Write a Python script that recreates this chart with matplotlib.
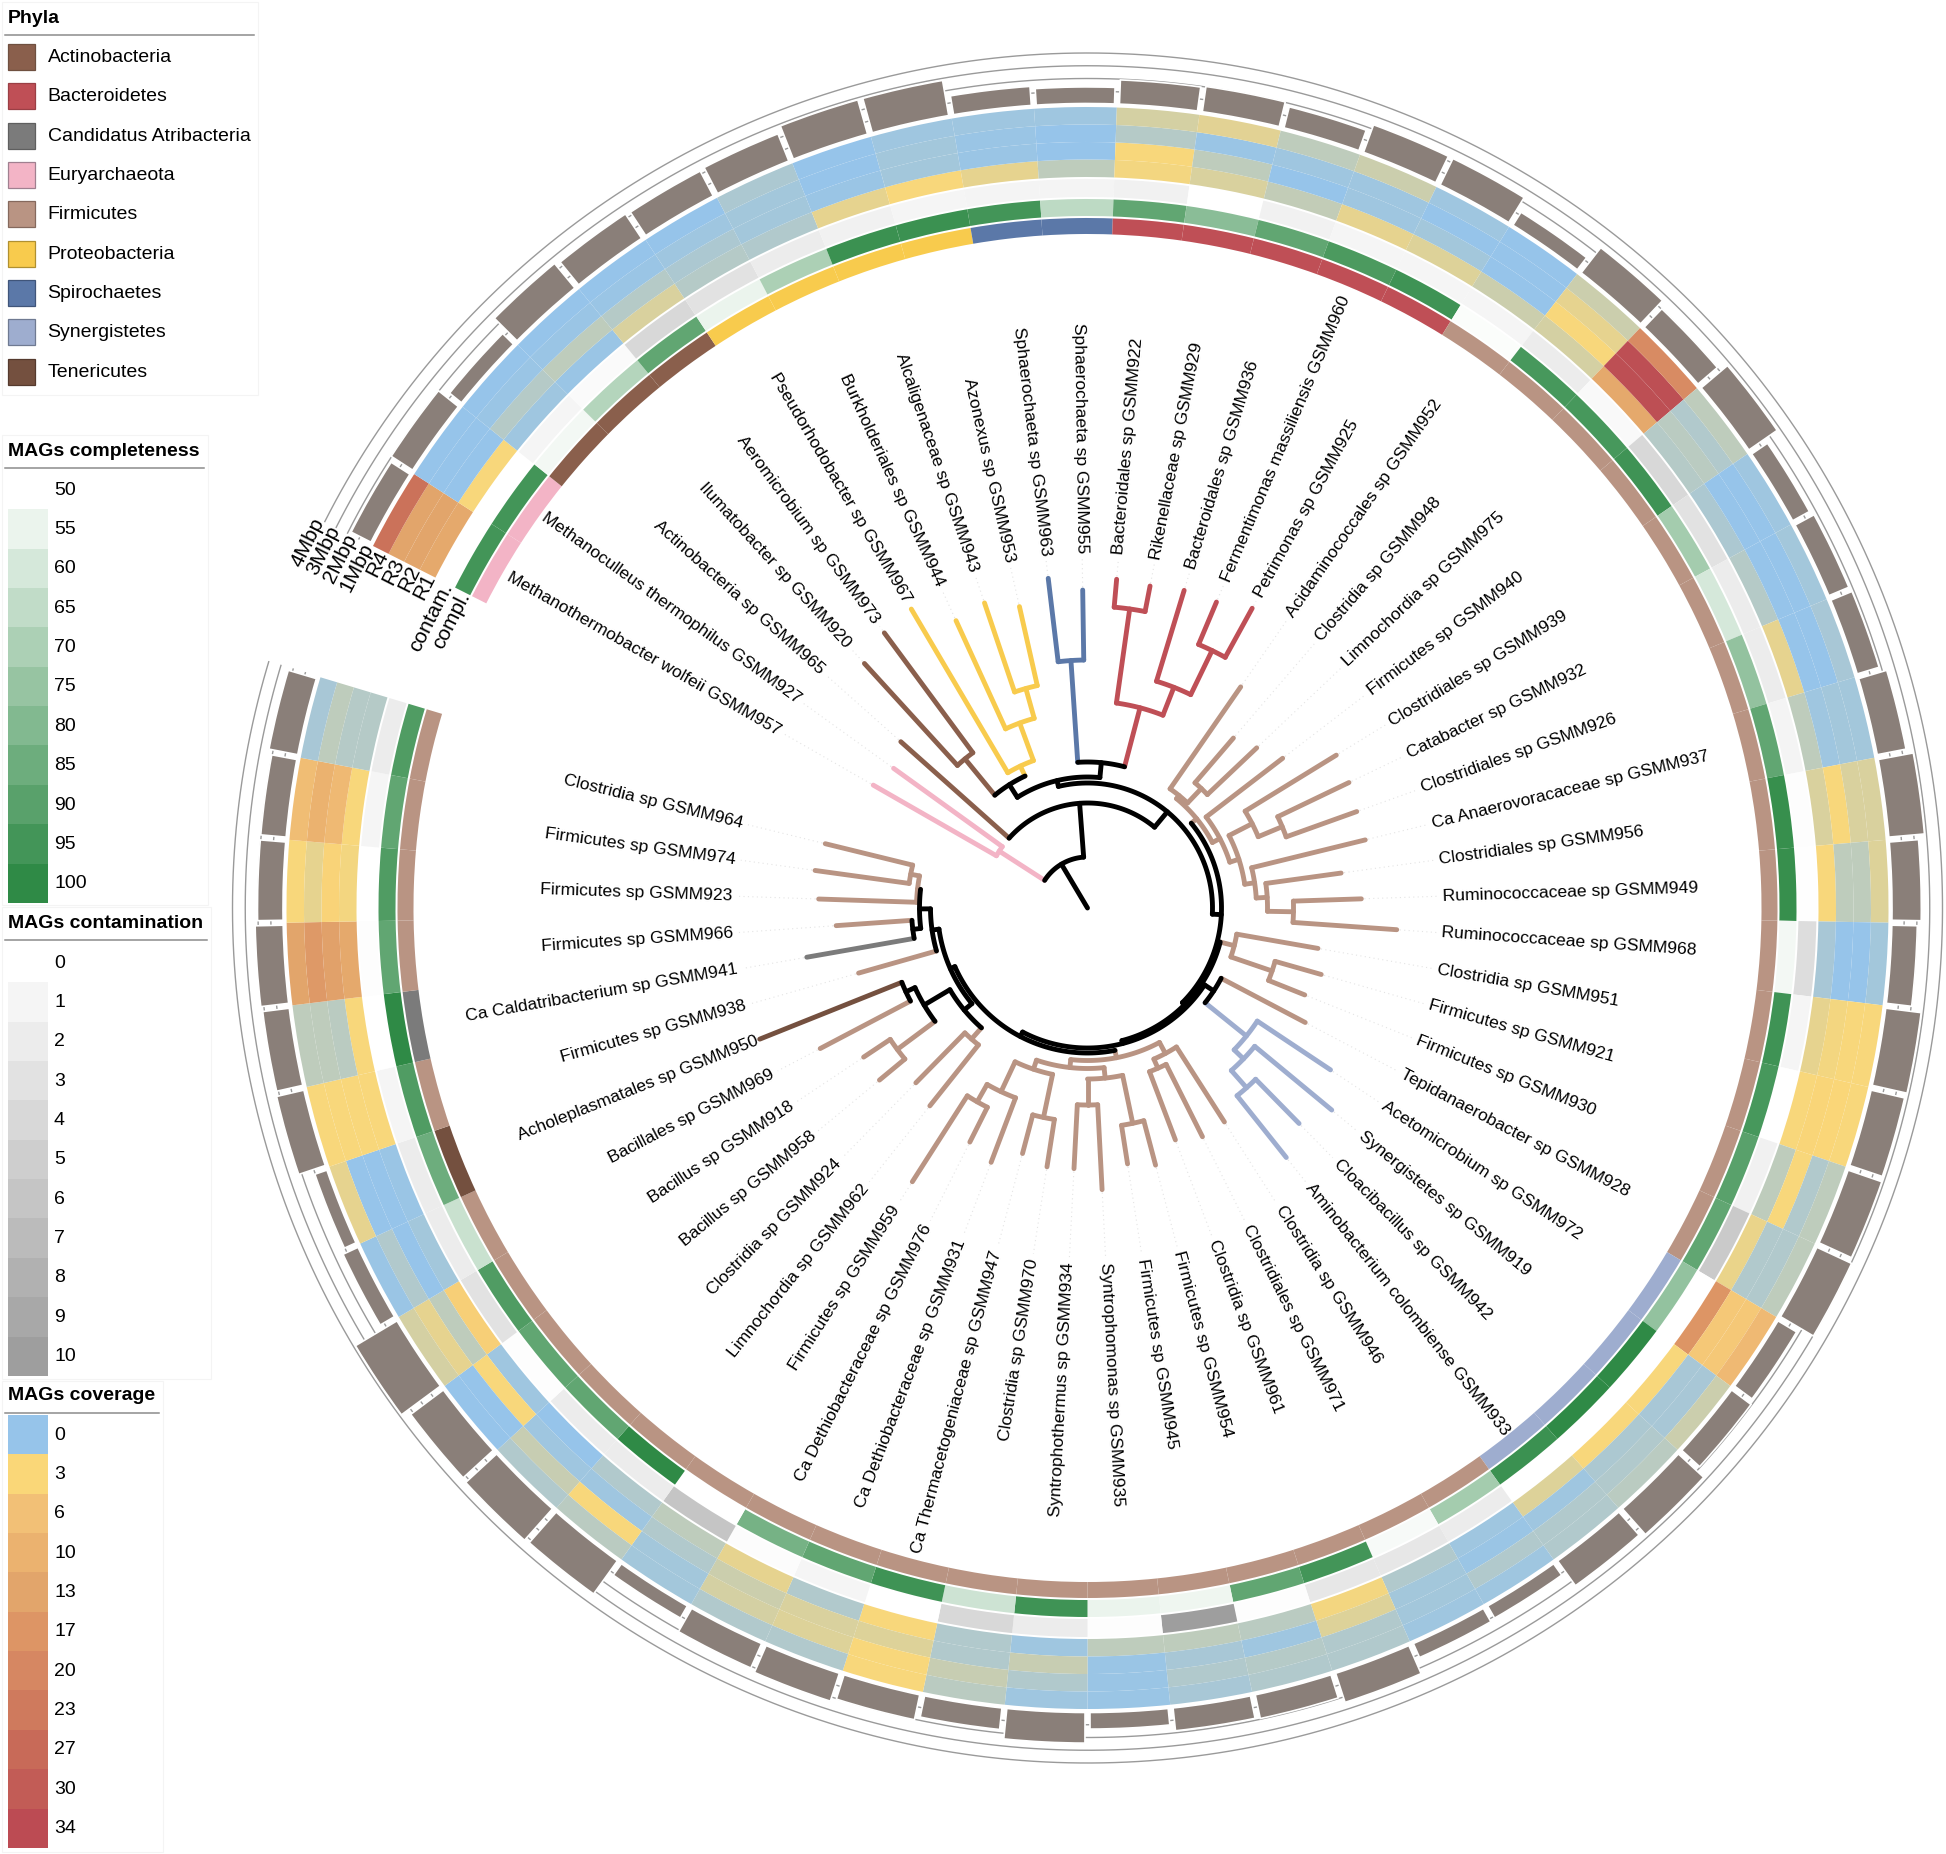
import numpy as np
import matplotlib
matplotlib.use('Agg')
import matplotlib.pyplot as plt
from matplotlib.colors import LinearSegmentedColormap
from matplotlib.patches import Rectangle

plt.rcParams['font.family'] = ['Liberation Sans', 'DejaVu Sans']

W, H = 1946, 1854
CX, CY, RMAX = 1087.5, 908.0, 865.0

taxa = ["Methanothermobacter wolfeii GSMM957", "Methanoculleus thermophilus GSMM927", "Actinobacteria sp GSMM965",
        "Ilumatobacter sp GSMM920", "Aeromicrobium sp GSMM973", "Pseudorhodobacter sp GSMM967",
        "Burkholderiales sp GSMM944", "Alcaligenaceae sp GSMM943", "Azonexus sp GSMM953",
        "Sphaerochaeta sp GSMM963", "Sphaerochaeta sp GSMM955", "Bacteroidales sp GSMM922",
        "Rikenellaceae sp GSMM929", "Bacteroidales sp GSMM936", "Fermentimonas massiliensis GSMM960",
        "Petrimonas sp GSMM925", "Acidaminococcales sp GSMM952", "Clostridia sp GSMM948",
        "Limnochordia sp GSMM975", "Firmicutes sp GSMM940", "Clostridiales sp GSMM939",
        "Catabacter sp GSMM932", "Clostridiales sp GSMM926", "Ca Anaerovoracaceae sp GSMM937",
        "Clostridiales sp GSMM956", "Ruminococcaceae sp GSMM949", "Ruminococcaceae sp GSMM968",
        "Clostridia sp GSMM951", "Firmicutes sp GSMM921", "Firmicutes sp GSMM930",
        "Tepidanaerobacter sp GSMM928", "Acetomicrobium sp GSMM972", "Synergistetes sp GSMM919",
        "Cloacibacillus sp GSMM942", "Aminobacterium colombiense GSMM933", "Clostridia sp GSMM946",
        "Clostridiales sp GSMM971", "Clostridia sp GSMM961", "Firmicutes sp GSMM954",
        "Firmicutes sp GSMM945", "Syntrophomonas sp GSMM935", "Syntrophothermus sp GSMM934",
        "Clostridia sp GSMM970", "Ca Thermacetogeniaceae sp GSMM947", "Ca Dethiobacteraceae sp GSMM931",
        "Ca Dethiobacteraceae sp GSMM976", "Firmicutes sp GSMM959", "Limnochordia sp GSMM962",
        "Clostridia sp GSMM924", "Bacillus sp GSMM958", "Bacillus sp GSMM918", "Bacillales sp GSMM969",
        "Acholeplasmatales sp GSMM950", "Firmicutes sp GSMM938", "Ca Caldatribacterium sp GSMM941",
        "Firmicutes sp GSMM966", "Firmicutes sp GSMM923", "Firmicutes sp GSMM974", "Clostridia sp GSMM964"]

phyla_names = ["Actinobacteria", "Bacteroidetes", "Candidatus Atribacteria", "Euryarchaeota", "Firmicutes",
               "Proteobacteria", "Spirochaetes", "Synergistetes", "Tenericutes"]
phyla_colors = ["#8a5f4c", "#bf4f56", "#7b7b7b", "#f3b4c6", "#b99483", "#f8cb4d", "#5b78a8", "#9eadcf", "#74503f"]
phyla_edges = ["#6f5040", "#9a3f45", "#5f5f5f", "#a08090", "#85695d", "#b09030", "#40557a", "#6f7a92", "#553a2e"]

phylum = [3]*2 + [0]*3 + [5]*4 + [6]*2 + [1]*5 + [4]*15 + [7]*4 + [4]*17 + [8] + [4] + [2] + [4]*4

completeness = [95,95,53,68,88,55,70,97,97,95,66,88,78,88,93,96,51,94,94,96,72,60,76,88,98,98,53,96,94,90,88,76,100,
                100,97,72,52,95,88,54,55,96,62,96,88,83,50,100,88,88,92,63,85,92,100,88,92,88,92]
contamination = [0,0,1,.5,4,3,2,1.5,1,1.2,1.2,1.5,0,1.5,1,1,1,2,.7,4,3,2,2,1.2,.2,.1,3.5,1,0,1.5,5.5,0,0,0,0,2,2.5,
                 2.5,.2,10,.2,2,4,0,1,.3,6,2,2,.2,3,2,2,1,0,.2,0,1,2]
cov_r1 = [12,3,.3,.2,2,1,.8,2.4,3,2.4,1.3,2.9,2,1.4,2.4,2.2,1.7,1.9,12,1,.7,1,2.4,1.3,2.1,3,.6,2.4,3,1.3,2.6,17,3,3,
          2.2,.3,.8,2.8,1.1,1.3,1.3,.3,.8,3,.8,2.5,1.3,.8,0,.3,4,.5,.2,3,3,12,2.8,3,1]
cov_r2 = [13,0,1,1.2,1,.7,.4,.2,.4,.2,0,3,1.2,.1,.3,.4,0,3,33,1.1,.05,.1,0,.3,3,1.2,.1,2.9,3.3,3,.8,5,.6,.7,.3,.2,.4,
          2.2,.3,.6,.2,1.5,.8,2.2,2,1.7,.8,.3,.3,3,1.3,.05,0,3,1.1,14,3.5,8,1]
cov_r3 = [13,0,.2,.2,.2,.3,.4,0,.4,.2,0,1,.2,.3,.3,.1,0,2.5,33,.8,.05,0,0,.5,2,1.2,.1,3,3.1,.9,.8,5,.6,.8,.9,.8,.4,.8,
          1,.8,.2,.8,1.5,3,2.2,1.9,.4,3,1.5,.1,2.5,.8,.1,3,1.2,16,2.5,10,1.3]
cov_r4 = [25,0,0,0,0,.1,.7,0,.3,.3,.3,1.9,2.3,1.2,1.6,.3,0,1.7,19,1.2,.3,.4,.6,.4,2.1,2.2,.5,3,3,1.2,1.2,8,1.6,1.1,.9,
          .3,.3,.8,.8,.6,.15,.3,1.1,3,.8,.8,.4,1.1,.8,.05,1.9,.2,2.4,3,1.2,13,3,7,.6]
genome_mbp = [1.75,2.0,1.2,2.5,2.3,2.2,2.3,2.8,2.8,1.5,1.3,1.9,2.0,1.7,2.3,2.3,1.2,2.5,2.0,2.7,1.5,1.7,1.8,2.3,2.8,2.3,
              2.0,2.8,2.7,2.8,3.0,1.7,1.9,2.7,2.4,1.1,1.2,2.4,1.9,1.8,1.3,2.4,1.7,2.0,2.3,2.1,1.1,3.2,3.3,3.2,3.8,1.3,
              1.0,2.2,2.1,2.2,2.0,2.0,2.3]
tip_r = [247,239,250,331,342,347,316,322,309,332,318,330,328,332,332,342,269,224,233,246,292,290,286,286,256,274,310,
         234,243,234,246,292,317,302,319,254,256,248,266,259,282,261,262,254,272,262,325,253,245,270,269,302,353,238,
         285,252,269,275,270]

# tree: (node radius, child, child); an int child is a tip
actino = (193, 3, 4)
proteo = (157, 5, (197, 6, (228, 7, 8)))
bactero = (207, (302, 11, 12), (237, 13, (286, 14, 15)))
top_node = (146, (248, 9, 10), bactero)
q_node = (131, (146, actino, proteo), top_node)
m_node = (159, (185, 20, (211, 21, 22)), (169, 23, (180, 24, (206, 25, 26))))
a_node = (141, (145, 16, (165, 17, 18)), (149.5, 19, m_node))
syn = (204, 31, (217, 32, (240, 33, 34)))
b1_node = (152.5, (165, 35, (175, 36, 37)),
           (160.5, (171, (220, 38, 39), (197, 40, 41)), (170, (214, 42, 43), (203, 44, (223, 45, 46)))))
h0_node = (160, (175, 47, 48), (190, (237, 49, 50), (200, 51, 52)))
p1_node = (157, 53, (168, (176, 54, 55), (171, 56, (180, 57, 58))))
n2_node = (145, b1_node, (150, h0_node, p1_node))
n1_node = (140, (151, 30, syn), n2_node)
c_node = (137, (151.5, 27, (195, 28, 29)), n1_node)
y_node = (134, a_node, c_node)
x_node = (125, q_node, y_node)
tree = (51, (105, 0, 1), (105, 2, x_node))

comp_levels = [50,55,60,65,70,75,80,85,90,95,100]
cont_levels = [0,1,2,3,4,5,6,7,8,9,10]
cov_levels = [0,3,6,10,13,17,20,23,27,30,34]
cov_stops = ["#96c4ea","#fad778","#f2c076","#ebb26f","#e2a56b","#dd9565","#d68762","#cf7a5d","#c86a58","#c25c56","#bc4b53"]
comp_cmap = LinearSegmentedColormap.from_list('comp', ["#ffffff", "#2f8a46"])
cont_cmap = LinearSegmentedColormap.from_list('cont', ["#ffffff", "#9e9e9e"])
cov_cmap = LinearSegmentedColormap.from_list('cov', [(v/34, c) for v, c in zip(cov_levels, cov_stops)])

START = 296.87
STEP = 5.93
N = len(taxa)
def th(i):
    return np.radians(START + STEP*i)

fig = plt.figure(figsize=(W/100, H/100), dpi=100, facecolor='white')
ax = fig.add_axes([(CX-RMAX)/W, (H-CY-RMAX)/H, 2*RMAX/W, 2*RMAX/H], projection='polar')
ax.set_theta_zero_location('N')
ax.set_theta_direction(-1)
ax.set_ylim(0, RMAX)
ax.axis('off')

centers = np.array([th(i+.5) for i in range(N)])
width = np.radians(STEP)

def ring(colors, r0, r1):
    ax.bar(centers, r1-r0, width=width, bottom=r0, color=colors, linewidth=0, zorder=3)

ring([phyla_colors[p] for p in phylum], 674, 690)
ring([comp_cmap((v-50)/50) for v in completeness], 692, 709)
ring([cont_cmap(v/10) for v in contamination], 711, 729)
for k, vals in enumerate([cov_r1, cov_r2, cov_r3, cov_r4]):
    ring([cov_cmap(v/34) for v in vals], 731+17.5*k, 731+17.5*(k+1))

ts = np.linspace(th(0), th(N), 900)
for mbp in [1, 2, 3, 4]:
    ax.plot(ts, np.full_like(ts, 804+12.75*mbp), color='#9a9a9a', lw=1.0, zorder=2)
ax.bar(centers, np.array(genome_mbp)*12.75, width=np.radians(STEP-0.35), bottom=804.5, color='#8a7f79',
       edgecolor='white', linewidth=1.2, zorder=4)

# tree
def leaves(n):
    if isinstance(n, int):
        return [n]
    return leaves(n[1]) + leaves(n[2])
def angle(n):
    if isinstance(n, int):
        return n + .5
    return (angle(n[1]) + angle(n[2])) / 2
def col(n):
    ps = {phylum[i] for i in leaves(n)}
    return phyla_colors[ps.pop()] if len(ps) == 1 else 'black'
TREE_LW = 3.5
def draw(n, rparent):
    a = th(angle(n))
    c = col(n)
    z = 6 if c == 'black' else 5
    r = tip_r[n] if isinstance(n, int) else n[0]
    ax.plot([a, a], [rparent, r], color=c, lw=TREE_LW, solid_capstyle='round', zorder=z)
    if isinstance(n, int):
        return
    t = np.linspace(th(angle(n[1])), th(angle(n[2])), 60)
    ax.plot(t, np.full_like(t, r), color=c, lw=TREE_LW, solid_capstyle='round', zorder=z)
    draw(n[1], r)
    draw(n[2], r)
draw(tree, 0)

# leaders and labels
for i, name in enumerate(taxa):
    a = th(i+.5)
    ax.plot([a, a], [tip_r[i]+3, 350], color='#e4e4e4', lw=0.8, ls=(0, (1, 3)), zorder=1)
    b = (START + STEP*(i+.5)) % 360
    if b < 180:
        rot, ha = 90-b, 'left'
    else:
        rot, ha = 270-b, 'right'
    ax.text(a, 355, name, rotation=rot, rotation_mode='anchor', ha=ha, va='center', fontsize=12.6, color='black', zorder=7)

# ring captions
cap_names = ["compl.", "contam.", "R1", "R2", "R3", "R4", "1Mbp", "2Mbp", "3Mbp", "4Mbp"]
cap_r = [697, 717, 737, 754, 771, 789, 806, 825, 843, 861]
for s, r in zip(cap_names, cap_r):
    ax.text(th(0.0), r, s, rotation=90-(START+90), rotation_mode='anchor', ha='right', va='center', fontsize=15, zorder=7)

# legends
lax = fig.add_axes([0, 0, 1, 1], facecolor='none')
lax.set_xlim(0, W)
lax.set_ylim(H, 0)
lax.axis('off')
BOX = '#f4f4f4'
LEG_FS = 14
def box(x0, y0, x1, y1):
    lax.add_patch(Rectangle((x0, y0), x1-x0, y1-y0, fc='white', ec=BOX, lw=0.8, zorder=1))
def title(s, y, x1):
    lax.text(8, y, s, fontsize=LEG_FS, fontweight='bold', va='center', ha='left', zorder=3)
    lax.plot([5, x1], [y+17, y+17], color='#8c8c8c', lw=1.1, zorder=3)

box(2, 2, 258, 395)
title("Phyla", 18, 254)
for k, (s, c, e) in enumerate(zip(phyla_names, phyla_colors, phyla_edges)):
    y = 44 + 39.35*k
    lax.add_patch(Rectangle((8, y), 26.5, 26, fc=c, ec=e, lw=0.9, zorder=3))
    lax.text(47.5, y+13.5, s, fontsize=LEG_FS, va='center', ha='left', zorder=3)

def scale(levels, cols, y0):
    for k, (v, c) in enumerate(zip(levels, cols)):
        y = y0 + 39.35*k
        lax.add_patch(Rectangle((8, y), 40, 39.35, fc=c, ec='none', lw=0, zorder=3))
        lax.text(54, y+20.2, str(v), fontsize=LEG_FS, va='center', ha='left', zorder=3)

box(2, 435, 208, 905)
title("MAGs completeness", 451, 204)
scale(comp_levels, [comp_cmap((v-50)/50) for v in comp_levels], 470)
box(2, 907, 211, 1379)
title("MAGs contamination", 923, 207)
scale(cont_levels, [cont_cmap(v/10) for v in cont_levels], 943)
box(2, 1381, 163, 1852)
title("MAGs coverage", 1396, 159)
scale(cov_levels, cov_stops, 1415)

fig.savefig('out.png', dpi=100, facecolor='white')
